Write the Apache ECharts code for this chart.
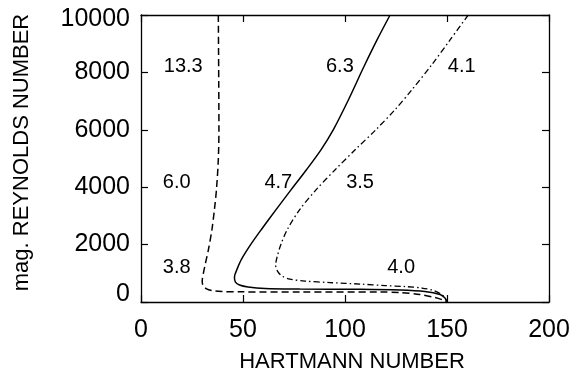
<!DOCTYPE html>
<html>
<head>
<meta charset="utf-8">
<script src="https://cdn.jsdelivr.net/npm/echarts@6/dist/echarts.min.js"></script>
<style>
  html, body { margin: 0; padding: 0; background: #fff; }
  #chart { width: 586px; height: 378px; }
</style>
</head>
<body>
<div id="chart"></div>
<script>
// curves: [Hartmann number, mag. Reynolds number]
const solidCurve = [
  [122.1, 10000], [115.7, 9132], [109.3, 8204], [101.7, 7048], [94.3, 6007],
  [88.3, 5312], [81.2, 4618], [73.7, 3923], [66.3, 3229], [59.1, 2535],
  [53.9, 2014], [49.3, 1493], [47.1, 1146], [45.8, 868], [46.3, 694],
  [48.3, 590], [52.5, 521], [60.8, 469], [77.9, 451], [107.4, 441],
  [127, 417], [139.2, 365], [146.6, 260], [149, 139], [150, 0]
];
const dashedCurve = [
  [37.9, 10000], [38.1, 7743], [38.2, 6007], [37.9, 4965], [37.0, 3923],
  [36.0, 3229], [34.8, 2535], [33.1, 1840], [31.5, 1319], [30.5, 972],
  [30.0, 729], [30.4, 573], [31.9, 469], [34.8, 399], [39.7, 365],
  [48.5, 354], [77.9, 347], [117.2, 347], [127, 330], [136.8, 260],
  [144.1, 156], [148, 69], [150, 0]
];
const dashDotCurve = [
  [160.4, 10000], [151.5, 9132], [142.5, 8264], [132.8, 7395], [124.5, 6701],
  [115.2, 6007], [105.1, 5312], [95.3, 4618], [86.0, 3923], [77.9, 3229],
  [71.8, 2535], [68.6, 2014], [66.7, 1562], [66.0, 1285], [66.9, 1076],
  [69.1, 903], [73.0, 799], [80.4, 729], [92.6, 677], [107.4, 625],
  [119.6, 573], [129.4, 538], [137.7, 486], [143.6, 399], [147.1, 278],
  [149, 139], [150, 0]
];

// numbers written inside the plot
const noteText = ['13.3', '6.3', '4.1', '6.0', '4.7', '3.5', '3.8', '4.0'];
const noteX = [20.7, 97.5, 157.2, 17.5, 67.3, 107.4, 17.5, 127.5];
const noteY = [8200, 8200, 8200, 4150, 4150, 4150, 1200, 1200];

const xTicks = [0, 50, 100, 150, 200];
const yTicks = [0, 2000, 4000, 6000, 8000, 10000];

const FONT = '"Liberation Sans", Arial, sans-serif';

const chart = echarts.init(document.getElementById('chart'), null, { renderer: 'canvas' });

const lineBase = {
  type: 'line',
  showSymbol: false,
  symbol: 'none',
  smooth: 0.3,
  silent: true,
  animation: false
};

const notes = noteText.map((t, i) => ({ value: [noteX[i], noteY[i]], name: t }));

const boxAxis = {
  axisLine: { show: true, onZero: false, lineStyle: { color: '#000', width: 1.3 } },
  axisTick: { show: true, inside: true, length: 7, lineStyle: { color: '#000', width: 1.2 } },
  splitLine: { show: false }
};

const tickFont = { fontFamily: FONT, fontSize: 25, color: '#000' };

const option = {
  animation: false,
  backgroundColor: '#fff',
  grid: { left: 141, right: 37, top: 15, bottom: 75, containLabel: false },
  xAxis: [
    Object.assign({
      type: 'value', min: xTicks[0], max: xTicks[xTicks.length - 1], interval: 50,
      name: 'HARTMANN NUMBER', nameLocation: 'middle', nameGap: 49,
      nameTextStyle: { fontFamily: FONT, fontSize: 22, color: '#000', padding: [0, 0, 0, 14] },
      axisLabel: Object.assign({ margin: 16 }, tickFont)
    }, boxAxis),
    Object.assign({
      type: 'value', position: 'top', min: 0, max: 200, interval: 50,
      axisLabel: { show: false }
    }, boxAxis)
  ],
  yAxis: [
    Object.assign({
      type: 'value', min: yTicks[0], max: yTicks[yTicks.length - 1], interval: 2000,
      name: 'mag. REYNOLDS NUMBER', nameLocation: 'middle', nameGap: 108,
      nameTextStyle: { fontFamily: FONT, fontSize: 22, color: '#000', padding: [0, 0, 0, 12] },
      axisLabel: Object.assign({
        margin: 11,
        // bottom label sits a little above its tick, top one a little below
        formatter: v => v === yTicks[0] ? '{lo|' + v + '}'
          : v === yTicks[yTicks.length - 1] ? '{hi|' + v + '}' : String(v),
        rich: {
          lo: Object.assign({ padding: [0, 0, 16, 0] }, tickFont),
          hi: Object.assign({ padding: [8, 0, 0, 0] }, tickFont)
        }
      }, tickFont)
    }, boxAxis),
    Object.assign({
      type: 'value', position: 'right', min: 0, max: 10000, interval: 2000,
      axisLabel: { show: false }
    }, boxAxis)
  ],
  series: [
    Object.assign({}, lineBase, {
      name: 'solid', data: solidCurve,
      lineStyle: { color: '#000', width: 1.5, type: 'solid' }
    }),
    Object.assign({}, lineBase, {
      name: 'dashed', data: dashedCurve,
      lineStyle: { color: '#000', width: 1.5, type: [7, 4] }
    }),
    Object.assign({}, lineBase, {
      name: 'dashdot', data: dashDotCurve,
      lineStyle: { color: '#000', width: 1.3, type: [6, 3, 1.5, 3] }
    }),
    {
      type: 'scatter', name: 'notes', data: notes, symbolSize: 0, silent: true,
      itemStyle: { opacity: 1 },
      label: {
        show: true, position: 'inside', formatter: p => p.name,
        fontFamily: FONT, fontSize: 20, color: '#000', textBorderWidth: 0
      }
    }
  ]
};

chart.setOption(option);
</script>
</body>
</html>
